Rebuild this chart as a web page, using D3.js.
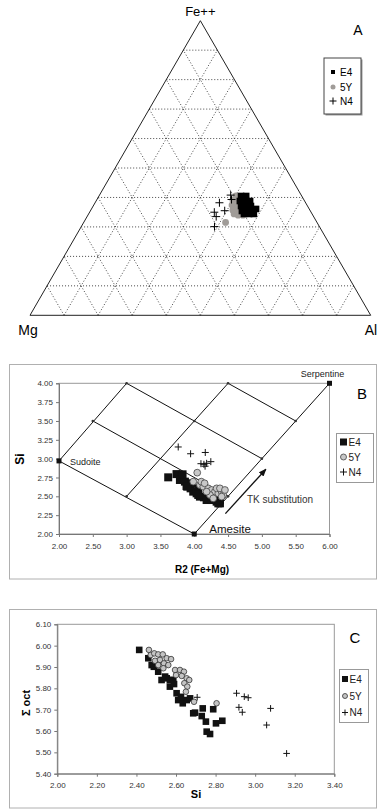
<!DOCTYPE html>
<html><head><meta charset="utf-8">
<script src="https://cdn.jsdelivr.net/npm/d3@7"></script>
<style>body{margin:0;background:#fff;} svg{display:block;font-family:"Liberation Sans",Arial,sans-serif;}</style>
</head><body><svg id="c" width="385" height="812"></svg>
<script>
// ---------- Panel A: ternary [Mg, Fe++, Al] (%) ----------
const ternApex = ["Mg", "Fe++", "Al"];
const ternGrid = [10, 20, 30, 40, 50, 60, 70, 80, 90];
const ternE4 = [[17.8,40.5,41.7],[16.3,40.5,43.2],[19.0,38.8,42.2],[17.5,38.8,43.7],[16.0,38.8,45.2],
  [19.5,37.1,43.4],[18.0,37.1,44.9],[16.6,37.1,46.3],[20.1,35.4,44.5],[18.6,35.4,46.0],[17.1,35.4,47.5],
  [15.6,36.1,48.3],[20.0,34.4,45.6],[18.5,34.4,47.1],[17.1,34.4,48.5]];
const tern5Y = [[19.3,40.5,40.2],[20.9,39.1,40.0],[19.5,38.8,41.7],[22.0,37.4,40.6],[21.0,37.1,41.9],
  [20.0,36.8,43.2],[22.6,35.7,41.7],[21.5,35.4,43.1],[20.5,35.1,44.4],[22.9,34.4,42.7],[21.9,34.0,44.1],
  [20.5,34.0,45.5],[26.8,31.5,41.6]];
const ternN4 = [[20.7,40.8,38.5],[25.3,38.2,36.5],[28.4,35.0,36.6],[25.1,35.5,39.4],[28.6,33.5,37.9],
  [30.8,30.1,39.1],[21.2,39.3,39.5]];

// ---------- Panel B: R2 (Fe+Mg) vs Si ----------
const bE4 = [[3.615,2.752],[3.738,2.795],[3.812,2.761],[3.788,2.717],[3.862,2.695],[3.827,2.792],[3.886,2.637],
  [3.946,2.606],[3.960,2.673],[3.985,2.562],[4.035,2.540],[4.059,2.606],[4.084,2.496],[4.143,2.487],
  [4.183,2.451],[4.257,2.451],[4.331,2.429],[4.380,2.407],[4.356,2.407],[4.380,2.451],[3.896,2.628],[4.059,2.518]];
const b5Y = [[4.044,2.814],[3.985,2.695],[4.084,2.650],[4.133,2.628],[4.207,2.606],[4.257,2.584],[4.306,2.562],
  [4.356,2.540],[4.405,2.562],[4.430,2.518],[4.232,2.518],[4.281,2.473],[4.104,2.695],[4.153,2.673],
  [4.331,2.606],[4.380,2.606],[4.405,2.496],[4.183,2.562],[4.454,2.584]];
const bN4 = [[3.763,3.155],[3.946,3.065],[4.163,3.082],[4.099,2.933],[4.143,2.925],[4.183,2.938],[4.245,2.960],[4.160,2.900]];
const bRefNames = ["Sudoite", "Amesite", "Serpentine"];
const bRefR2 = [2.0, 4.0, 6.0];
const bRefSi = [2.97, 2.0, 4.0];
const bGridLines = [
  [[2,2.97],[4,2]], [[2.5,3.5],[4.5,2.5]], [[3,4],[5,3]], [[4.5,4],[5.5,3.5]],
  [[2,2.97],[3,4]], [[3,2.5],[4.5,4]], [[4,2],[6,4]]];
const bGridNodes = [[2.5,3.5],[3,2.5],[4,3.5],[4.5,2.5],[5,3],[5.5,3.5],[3,4],[4.5,4]];
const bArrow = [[4.46,2.27],[5.06,2.86]];
const bTicksX = [2,2.5,3,3.5,4,4.5,5,5.5,6];
const bTicksY = [2,2.25,2.5,2.75,3,3.25,3.5,3.75,4];

// ---------- Panel C: Si vs Σ oct ----------
const cE4 = [[2.414,5.980],[2.460,5.941],[2.477,5.909],[2.488,5.901],[2.510,5.878],[2.527,5.839],[2.553,5.847],
  [2.569,5.839],[2.569,5.808],[2.586,5.839],[2.603,5.777],[2.611,5.745],[2.634,5.730],[2.654,5.745],[2.671,5.753],
  [2.687,5.683],[2.696,5.686],[2.735,5.706],[2.730,5.670],[2.751,5.644],[2.755,5.597],[2.772,5.586],[2.788,5.702],
  [2.802,5.636],[2.834,5.648],[2.545,5.855],[2.590,5.820],[2.625,5.760]];
const c5Y = [[2.463,5.980],[2.472,5.956],[2.490,5.964],[2.510,5.959],[2.533,5.959],[2.553,5.941],[2.575,5.937],
  [2.494,5.929],[2.519,5.933],[2.539,5.917],[2.561,5.909],[2.595,5.886],[2.620,5.886],[2.640,5.878],[2.600,5.862],
  [2.629,5.858],[2.654,5.847],[2.667,5.839],[2.642,5.824],[2.657,5.808],[2.650,5.784],[2.691,5.737],[2.805,5.730],
  [2.510,5.909],[2.536,5.894]];
const cN4 = [[2.707,5.758],[2.906,5.777],[2.945,5.761],[2.965,5.756],[2.918,5.711],[2.935,5.688],[3.078,5.706],
  [3.058,5.628],[3.159,5.495]];
const cTicksX = [2.0,2.2,2.4,2.6,2.8,3.0,3.2,3.4];
const cTicksY = [5.4,5.5,5.6,5.7,5.8,5.9,6.0,6.1];

const seriesNames = ["E4", "5Y", "N4"];

const svg = d3.select("#c");

function plusPath(s){ return `M${-s},0H${s}M0,${-s}V${s}`; }

// ================= Panel A =================
const gA = svg.append("g");
const xA = d3.scaleLinear().domain([0, 1]).range([30, 370.7]);
const yA = d3.scaleLinear().domain([0, 1]).range([315.3, 20.7]);
const proj = t => { const s = t[0]+t[1]+t[2]; const fe = t[1]/s, al = t[2]/s; return [xA(al + fe/2), yA(fe)]; };

ternGrid.forEach(k => {
  const segs = [
    [[100-k,k,0],[0,k,100-k]],
    [[100-k,0,k],[0,100-k,k]],
    [[k,0,100-k],[k,100-k,0]]];
  segs.forEach(s => {
    const a = proj(s[0]), b = proj(s[1]);
    gA.append("line").attr("x1",a[0]).attr("y1",a[1]).attr("x2",b[0]).attr("y2",b[1])
      .attr("stroke","#333").attr("stroke-width",0.9).attr("stroke-dasharray","1,2");
  });
});
const corners = [[100,0,0],[0,100,0],[0,0,100]].map(proj);
gA.append("path").attr("d", d3.line()(corners) + "Z").attr("fill","none").attr("stroke","#222").attr("stroke-width",1);

gA.selectAll(".y5").data(tern5Y).join("circle")
  .attr("cx", d => proj(d)[0]).attr("cy", d => proj(d)[1]).attr("r",3.4).attr("fill","#a09c98");
gA.selectAll(".e4").data(ternE4).join("rect")
  .attr("x", d => proj(d)[0]-3.3).attr("y", d => proj(d)[1]-3.3).attr("width",6.6).attr("height",6.6).attr("fill","#000");
gA.selectAll(".n4").data(ternN4).join("path")
  .attr("transform", d => `translate(${proj(d)[0]},${proj(d)[1]})`).attr("d", plusPath(4))
  .attr("stroke","#000").attr("stroke-width",1).attr("fill","none");

gA.append("text").attr("x", corners[1][0]).attr("y", 16).attr("text-anchor","middle").attr("font-size",13).text(ternApex[1]);
gA.append("text").attr("x", 28).attr("y", 335).attr("text-anchor","middle").attr("font-size",14).text(ternApex[0]);
gA.append("text").attr("x", 371).attr("y", 335).attr("text-anchor","middle").attr("font-size",14).text(ternApex[2]);
gA.append("text").attr("x", 358).attr("y", 35).attr("text-anchor","middle").attr("font-size",14).text("A");

// legend A
gA.append("rect").attr("x",325.5).attr("y",59.5).attr("width",37).attr("height",56).attr("fill","#999");
gA.append("rect").attr("x",324).attr("y",58).attr("width",37).attr("height",56).attr("fill","#fff").attr("stroke","#444");
const legAy = [72, 87, 101];
gA.append("rect").attr("x",331).attr("y",legAy[0]-2).attr("width",4).attr("height",4).attr("fill","#000");
gA.append("circle").attr("cx",333).attr("cy",legAy[1]).attr("r",2.5).attr("fill","#a09c98");
gA.append("path").attr("transform",`translate(333,${legAy[2]})`).attr("d",plusPath(3.5)).attr("stroke","#000");
seriesNames.forEach((n,i) => gA.append("text").attr("x",340).attr("y",legAy[i]+3.5).attr("font-size",10).text(n));

// ================= Panel B =================
const gB = svg.append("g");
gB.append("rect").attr("x",9.5).attr("y",364.5).attr("width",367).attr("height",214.5).attr("fill","#fff").attr("stroke","#b0b0b0");
const xB = d3.scaleLinear().domain([2, 6]).range([59, 329.5]);
const yB = d3.scaleLinear().domain([2, 4]).range([534, 383.3]);
gB.append("rect").attr("x",xB(2)).attr("y",yB(4)).attr("width",xB(6)-xB(2)).attr("height",yB(2)-yB(4))
  .attr("fill","none").attr("stroke","#999");
const axBx = gB.append("g").attr("transform",`translate(0,${yB(2)})`)
  .call(d3.axisBottom(xB).tickValues(bTicksX).tickFormat(d3.format(".2f")).tickSize(3));
const axBy = gB.append("g").attr("transform",`translate(${xB(2)},0)`)
  .call(d3.axisLeft(yB).tickValues(bTicksY).tickFormat(d3.format(".2f")).tickSize(3));
[axBx, axBy].forEach(a => {
  a.selectAll("text").attr("font-size",8).attr("fill","#333").attr("font-family","Liberation Sans, Arial, sans-serif");
  a.selectAll("line").attr("stroke","#777");
  a.select(".domain").attr("stroke","#777");
});
axBx.selectAll("text").attr("dy","1.1em");

bGridLines.forEach(l => {
  gB.append("line").attr("x1",xB(l[0][0])).attr("y1",yB(l[0][1])).attr("x2",xB(l[1][0])).attr("y2",yB(l[1][1]))
    .attr("stroke","#111").attr("stroke-width",1);
});
gB.selectAll(".node").data(bGridNodes).join("circle")
  .attr("cx",d=>xB(d[0])).attr("cy",d=>yB(d[1])).attr("r",1.3).attr("fill","#333");
bRefNames.forEach((n,i) => {
  gB.append("rect").attr("x",xB(bRefR2[i])-2.5).attr("y",yB(bRefSi[i])-2.5).attr("width",5).attr("height",5).attr("fill","#111");
});
gB.append("text").attr("x",xB(bRefR2[0])+11).attr("y",yB(bRefSi[0])+4).attr("font-size",9).attr("fill","#222").text(bRefNames[0]);
gB.append("text").attr("x",xB(bRefR2[1])+15).attr("y",yB(bRefSi[1])-1).attr("font-size",11.5).attr("fill","#111").text(bRefNames[1]);
gB.append("text").attr("x",xB(bRefR2[2])-7).attr("y",yB(bRefSi[2])-6).attr("text-anchor","middle").attr("font-size",9).attr("fill","#222").text(bRefNames[2]);

// arrow
svg.append("defs").append("marker").attr("id","ah").attr("viewBox","0 0 10 10").attr("refX",9).attr("refY",5)
  .attr("markerWidth",6).attr("markerHeight",6).attr("orient","auto")
  .append("path").attr("d","M0,1L10,5L0,9Z").attr("fill","#111");
gB.append("line").attr("x1",xB(bArrow[0][0])).attr("y1",yB(bArrow[0][1])).attr("x2",xB(bArrow[1][0])).attr("y2",yB(bArrow[1][1]))
  .attr("stroke","#111").attr("stroke-width",1.3).attr("marker-end","url(#ah)");
gB.append("text").attr("x",247).attr("y",503).attr("font-size",10).attr("fill","#333").text("TK substitution");

gB.selectAll(".be4").data(bE4).join("rect")
  .attr("x",d=>xB(d[0])-4).attr("y",d=>yB(d[1])-4).attr("width",8).attr("height",8).attr("fill","#111");
gB.selectAll(".b5y").data(b5Y).join("circle")
  .attr("cx",d=>xB(d[0])).attr("cy",d=>yB(d[1])).attr("r",3.4).attr("fill","#c8c8c8").attr("stroke","#444").attr("stroke-width",0.8);
gB.selectAll(".bn4").data(bN4).join("path")
  .attr("transform",d=>`translate(${xB(d[0])},${yB(d[1])})`).attr("d",plusPath(3.5))
  .attr("stroke","#111").attr("stroke-width",1).attr("fill","none");

gB.append("text").attr("x",362).attr("y",399).attr("text-anchor","middle").attr("font-size",15).text("B");
gB.append("text").attr("transform",`translate(24,459) rotate(-90)`).attr("text-anchor","middle")
  .attr("font-size",12).attr("font-weight","bold").text("Si");
gB.append("text").attr("x",202).attr("y",573).attr("text-anchor","middle").attr("font-size",10).attr("font-weight","bold").text("R2 (Fe+Mg)");

// legend B
gB.append("rect").attr("x",336.5).attr("y",433.5).attr("width",37).attr("height",49).attr("fill","#fff").attr("stroke","#999");
const legBy = [442, 457, 472];
gB.append("rect").attr("x",340).attr("y",legBy[0]-3.5).attr("width",7).attr("height",7).attr("fill","#111");
gB.append("circle").attr("cx",343.5).attr("cy",legBy[1]).attr("r",3).attr("fill","#c8c8c8").attr("stroke","#444").attr("stroke-width",0.8);
gB.append("path").attr("transform",`translate(343.5,${legBy[2]})`).attr("d",plusPath(3.5)).attr("stroke","#111");
seriesNames.forEach((n,i) => gB.append("text").attr("x",348.5).attr("y",legBy[i]+3.5).attr("font-size",10).attr("fill","#222").text(n));

// ================= Panel C =================
const gC = svg.append("g");
gC.append("rect").attr("x",9.5).attr("y",609.5).attr("width",367).attr("height",198.5).attr("fill","#fff").attr("stroke","#b0b0b0");
const xC = d3.scaleLinear().domain([2.0, 3.4]).range([57.3, 334.3]);
const yC = d3.scaleLinear().domain([5.4, 6.1]).range([773.7, 624.3]);
gC.append("rect").attr("x",xC(2)).attr("y",yC(6.1)).attr("width",xC(3.4)-xC(2)).attr("height",yC(5.4)-yC(6.1))
  .attr("fill","none").attr("stroke","#999");
const axCx = gC.append("g").attr("transform",`translate(0,${yC(5.4)})`)
  .call(d3.axisBottom(xC).tickValues(cTicksX).tickFormat(d3.format(".2f")).tickSize(3));
const axCy = gC.append("g").attr("transform",`translate(${xC(2)},0)`)
  .call(d3.axisLeft(yC).tickValues(cTicksY).tickFormat(d3.format(".2f")).tickSize(3));
[axCx, axCy].forEach(a => {
  a.selectAll("text").attr("font-size",8).attr("fill","#333").attr("font-family","Liberation Sans, Arial, sans-serif");
  a.selectAll("line").attr("stroke","#777");
  a.select(".domain").attr("stroke","#777");
});
axCx.selectAll("text").attr("dy","1.1em");

gC.selectAll(".ce4").data(cE4).join("rect")
  .attr("x",d=>xC(d[0])-3.3).attr("y",d=>yC(d[1])-3.3).attr("width",6.6).attr("height",6.6).attr("fill","#111");
gC.selectAll(".c5y").data(c5Y).join("circle")
  .attr("cx",d=>xC(d[0])).attr("cy",d=>yC(d[1])).attr("r",2.8).attr("fill","#c4c4c4").attr("stroke","#333").attr("stroke-width",0.8);
gC.selectAll(".cn4").data(cN4).join("path")
  .attr("transform",d=>`translate(${xC(d[0])},${yC(d[1])})`).attr("d",plusPath(3.3))
  .attr("stroke","#111").attr("stroke-width",1).attr("fill","none");

gC.append("text").attr("x",355).attr("y",643).attr("text-anchor","middle").attr("font-size",15).text("C");
gC.append("text").attr("transform",`translate(30,703) rotate(-90)`).attr("text-anchor","middle")
  .attr("font-size",11).attr("font-weight","bold").text("Σ oct");
gC.append("text").attr("x",196).attr("y",798).attr("text-anchor","middle").attr("font-size",11).attr("font-weight","bold").text("Si");

// legend C
gC.append("rect").attr("x",339.5).attr("y",669.5).attr("width",29).attr("height",53).attr("fill","#fff").attr("stroke","#999");
const legCy = [679, 696, 712.5];
gC.append("rect").attr("x",342).attr("y",legCy[0]-3).attr("width",6).attr("height",6).attr("fill","#111");
gC.append("circle").attr("cx",345).attr("cy",legCy[1]).attr("r",2.5).attr("fill","#c4c4c4").attr("stroke","#333").attr("stroke-width",0.8);
gC.append("path").attr("transform",`translate(345,${legCy[2]})`).attr("d",plusPath(3)).attr("stroke","#111");
seriesNames.forEach((n,i) => gC.append("text").attr("x",349.5).attr("y",legCy[i]+3.5).attr("font-size",10).attr("fill","#222").text(n));
</script></body></html>
